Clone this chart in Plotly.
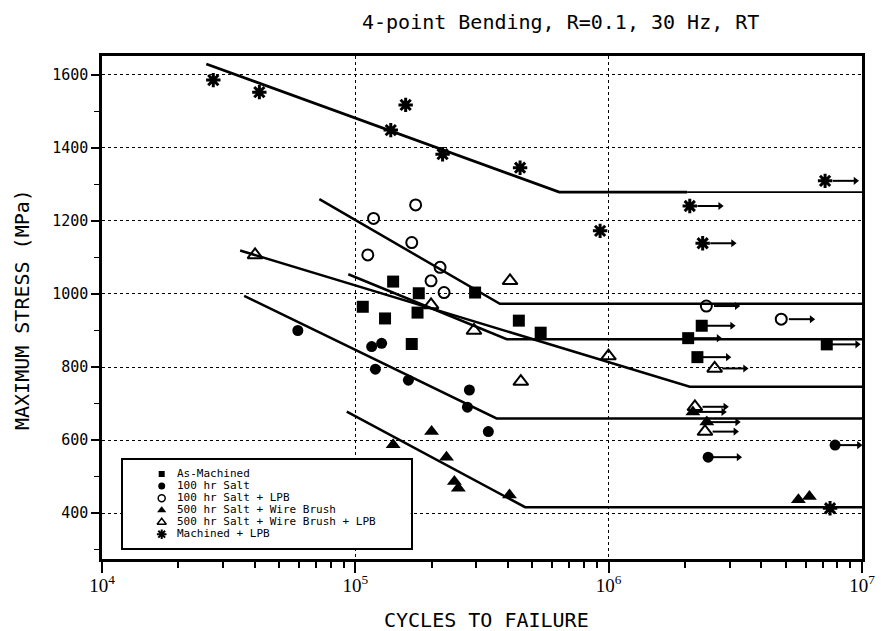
import numpy as np
import plotly.graph_objects as go

# ---------------- data ----------------
series_names = ["As-Machined", "100 hr Salt", "100 hr Salt + LPB",
                "500 hr Salt + Wire Brush", "500 hr Salt + Wire Brush + LPB",
                "Machined + LPB"]

am_N = [141000, 107000, 131000, 178000, 176000, 167000, 297000, 442000, 539000,
        2.33e6, 2.06e6, 2.24e6, 7.26e6]
am_S = [1034, 965, 933, 1002, 949, 863, 1004, 927, 894, 913, 879, 827, 862]
am_run = [0, 0, 0, 0, 0, 0, 0, 0, 0, 1, 1, 1, 1]

s100_N = [59300, 116000, 127000, 120000, 162000, 282000, 277000, 335000, 2.47e6, 7.83e6]
s100_S = [900, 856, 865, 794, 764, 737, 690, 623, 553, 586]
s100_run = [0, 0, 0, 0, 0, 0, 0, 0, 1, 1]

lpb100_N = [118000, 173000, 167000, 112000, 216000, 199000, 224000, 2.43e6, 4.8e6]
lpb100_S = [1207, 1244, 1141, 1107, 1073, 1036, 1004, 967, 931]
lpb100_run = [0, 0, 0, 0, 0, 0, 0, 1, 1]

wb_N = [141000, 200000, 229000, 246000, 255000, 406000, 5.61e6, 6.2e6, 2.15e6, 2.44e6]
wb_S = [587, 623, 553, 486, 468, 449, 436, 445, 677, 649]
wb_run = [0, 0, 0, 0, 0, 0, 0, 0, 1, 1]

wblpb_N = [40200, 199000, 408000, 294000, 450000, 998000, 2.62e6, 2.19e6, 2.4e6]
wblpb_S = [1107, 970, 1036, 900, 760, 830, 796, 691, 623]
wblpb_run = [0, 0, 0, 0, 0, 0, 1, 1, 1]

mlpb_N = [27500, 41800, 138000, 158000, 221000, 447000, 925000, 7.15e6, 2.09e6, 2.35e6, 7.48e6]
mlpb_S = [1586, 1553, 1449, 1518, 1383, 1346, 1173, 1310, 1241, 1139, 413]
mlpb_run = [0, 0, 0, 0, 0, 0, 0, 1, 1, 1, 0]

# fitted S-N curves (start, knee, end)
am_fit_N = [93800, 396000, 1e7];      am_fit_S = [1054, 876, 876]
s100_fit_N = [36400, 361000, 1e7];    s100_fit_S = [995, 659, 659]
lpb100_fit_N = [72100, 372000, 1e7];  lpb100_fit_S = [1260, 973, 973]
wb_fit_N = [92500, 468000, 1e7];      wb_fit_S = [678, 416, 416]
wblpb_fit_N = [35100, 2.09e6, 1e7];   wblpb_fit_S = [1119, 746, 746]
mlpb_fit_N = [25800, 638000, 2.04e6]; mlpb_fit_S = [1630, 1279, 1279]
mlpb_ext_N = [2.04e6, 1e7];           mlpb_ext_S = [1279, 1279]

y_ticks = [400, 600, 800, 1000, 1200, 1400, 1600]
x_ticks = [1e4, 1e5, 1e6, 1e7]
x_ticktext = ["10<sup>4</sup>", "10<sup>5</sup>", "10<sup>6</sup>", "10<sup>7</sup>"]

title_text = "4-point Bending, R=0.1, 30 Hz, RT"
x_title = "CYCLES TO FAILURE"
y_title = "MAXIMUM STRESS (MPa)"

# ---------------- styles ----------------
MONO = "DejaVu Sans Mono"
styles = [
    dict(symbol="square", size=12, line=dict(width=0)),
    dict(symbol="circle", size=11, line=dict(width=0)),
    dict(symbol="circle-open", size=11, line=dict(width=2)),
    dict(symbol="triangle-up", size=13, line=dict(width=0)),
    dict(symbol="triangle-up-open", size=13, line=dict(width=2)),
    dict(symbol="asterisk-open", size=12, line=dict(width=3)),
]
legend_styles = [
    dict(symbol="square", size=6),
    dict(symbol="circle", size=7),
    dict(symbol="circle-open", size=7, line=dict(width=1.5)),
    dict(symbol="triangle-up", size=8),
    dict(symbol="triangle-up-open", size=8, line=dict(width=1.5)),
    dict(symbol="asterisk-open", size=8, line=dict(width=2)),
]

data_sets = [
    (am_N, am_S, am_run),
    (s100_N, s100_S, s100_run),
    (lpb100_N, lpb100_S, lpb100_run),
    (wb_N, wb_S, wb_run),
    (wblpb_N, wblpb_S, wblpb_run),
    (mlpb_N, mlpb_S, mlpb_run),
]
fits = [
    (am_fit_N, am_fit_S, 2.5),
    (s100_fit_N, s100_fit_S, 2.5),
    (lpb100_fit_N, lpb100_fit_S, 2.5),
    (wb_fit_N, wb_fit_S, 2.5),
    (wblpb_fit_N, wblpb_fit_S, 2.5),
    (mlpb_fit_N, mlpb_fit_S, 2.8),
    (mlpb_ext_N, mlpb_ext_S, 1.6),
]

fig = go.Figure()

for fx, fy, w in fits:
    fig.add_trace(go.Scatter(x=fx, y=fy, mode="lines",
                             line=dict(color="black", width=w),
                             showlegend=False, hoverinfo="skip"))

# run-out arrows (shaft + head), built from the run-out points
ARROW_DEC = 0.12
shaft_x, shaft_y, head_x, head_y = [], [], [], []
for (N, S, run), st in zip(data_sets, styles):
    start_off = 0.03 if "open" in st["symbol"] else 0.01
    for n, s, r in zip(N, S, run):
        if r:
            end = min(n * 10 ** ARROW_DEC, 1e7 * 10 ** -0.012)
            shaft_x += [n * 10 ** start_off, end, None]
            shaft_y += [s, s, None]
            head_x.append(end)
            head_y.append(s)
fig.add_trace(go.Scatter(x=shaft_x, y=shaft_y, mode="lines",
                         line=dict(color="black", width=2),
                         showlegend=False, hoverinfo="skip"))
fig.add_trace(go.Scatter(x=head_x, y=head_y, mode="markers",
                         marker=dict(symbol="triangle-right", size=7, color="black"),
                         showlegend=False, hoverinfo="skip"))

for (N, S, run), st, name in zip(data_sets, styles, series_names):
    mk = dict(color="black", **st)
    if "line" in mk:
        mk["line"] = dict(color="black", **st["line"])
    fig.add_trace(go.Scatter(x=N, y=S, mode="markers", marker=mk,
                             name=name, showlegend=False))

# ---------------- legend drawn on a small inset axis ----------------
PX_L, PX_R, PX_T, PX_B = 102, 862, 56, 559
W, H = 887, 631
pw, ph = PX_R - PX_L, PX_B - PX_T


def px_x(p):
    return (p - PX_L) / pw


def px_y(p):
    return (PX_B - p) / ph


LEG_L, LEG_R, LEG_T, LEG_B = 122.7, 410.7, 460, 548.3
leg_w = LEG_R - LEG_L
mark_frac = (161.7 - LEG_L) / leg_w     # marker column inside the box
text_frac = (177.0 - LEG_L) / leg_w     # label column inside the box
leg_rows = list(range(len(series_names)))

for name, st, row in zip(series_names, legend_styles, leg_rows):
    mk = dict(color="black", **st)
    if "line" in mk:
        mk["line"] = dict(color="black", **st["line"])
    fig.add_trace(go.Scatter(x=[mark_frac], y=[row], mode="markers", marker=mk,
                             xaxis="x2", yaxis="y2", showlegend=False,
                             hoverinfo="skip"))
fig.add_trace(go.Scatter(x=[text_frac] * len(series_names), y=leg_rows,
                         text=series_names, mode="text",
                         textposition="middle right",
                         textfont=dict(family=MONO, size=11, color="black"),
                         xaxis="x2", yaxis="y2", showlegend=False,
                         hoverinfo="skip"))

shapes = [dict(type="rect", xref="x2 domain", yref="y2 domain",
               x0=0, x1=1, y0=0, y1=1, line=dict(width=0),
               fillcolor="white", layer="below")]

annotations = [
    dict(text=title_text, xref="paper", yref="paper", x=px_x(560), y=px_y(22),
         xanchor="center", yanchor="middle", showarrow=False,
         font=dict(family=MONO, size=20, color="black")),
    dict(text=x_title, xref="paper", yref="paper", x=px_x(486), y=px_y(620),
         xanchor="center", yanchor="middle", showarrow=False,
         font=dict(family=MONO, size=20, color="black")),
    dict(text=y_title, xref="paper", yref="paper", x=px_x(22), y=px_y(310),
         xanchor="center", yanchor="middle", showarrow=False, textangle=-90,
         font=dict(family=MONO, size=20, color="black")),
]

minor_x = [k * 10 ** d for d in range(4, 7) for k in range(2, 10)]
n_rows = len(series_names)

fig.update_layout(
    width=W, height=H,
    margin=dict(l=PX_L, r=W - PX_R, t=PX_T, b=H - PX_B),
    paper_bgcolor="white", plot_bgcolor="white",
    showlegend=False,
    xaxis=dict(type="log", range=[4, 7], tickvals=x_ticks, ticktext=x_ticktext,
               showline=True, linecolor="black", linewidth=2.5, mirror=True,
               ticks="outside", ticklen=11, tickwidth=2, tickcolor="black",
               ticklabelstandoff=-4,
               showgrid=True, gridcolor="black", griddash="dot", gridwidth=1,
               zeroline=False,
               tickfont=dict(family="Liberation Serif", size=19, color="black"),
               minor=dict(tickvals=minor_x, ticks="outside", ticklen=6,
                          tickwidth=1.5, tickcolor="black", showgrid=False)),
    yaxis=dict(range=[274, 1652], tickvals=y_ticks,
               showline=True, linecolor="black", linewidth=2.5, mirror=True,
               ticks="outside", ticklen=8, tickwidth=1.5, tickcolor="black",
               showgrid=True, gridcolor="black", griddash="dot", gridwidth=1,
               zeroline=False,
               tickfont=dict(family=MONO, size=15, color="black"),
               minor=dict(dtick=100, tick0=0, ticks="outside", ticklen=5,
                          tickwidth=1.2, tickcolor="black", showgrid=False)),
    xaxis2=dict(domain=[px_x(LEG_L), px_x(LEG_R)], range=[0, 1], anchor="y2",
                showline=True, mirror=True, linecolor="black", linewidth=2.2,
                showticklabels=False, ticks="", showgrid=False, zeroline=False,
                fixedrange=True),
    yaxis2=dict(domain=[px_y(LEG_B), px_y(LEG_T)], anchor="x2",
                range=[n_rows - 1 + 1.17, -1.17],
                showline=True, mirror=True, linecolor="black", linewidth=2.2,
                showticklabels=False, ticks="", showgrid=False, zeroline=False,
                fixedrange=True),
    shapes=shapes,
    annotations=annotations,
)

fig.write_html("out.html")
